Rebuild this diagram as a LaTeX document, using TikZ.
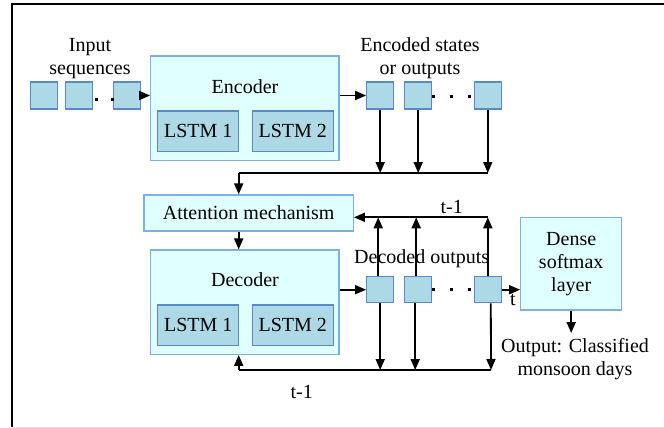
\documentclass[tikz,border=0pt]{standalone}
\usepackage{fontspec}
\setmainfont{Liberation Serif}
\usetikzlibrary{arrows.meta}
\definecolor{outerfill}{HTML}{E0FFFF}
\definecolor{outerline}{HTML}{7FAEE0}
\definecolor{cellfill}{HTML}{ADD8E6}
\definecolor{cellline}{HTML}{5A8AC6}
\begin{document}
\begin{tikzpicture}[x=1pt,y=-1pt,
  font=\fontsize{20}{23}\selectfont,
  outer/.style={draw=outerline, fill=outerfill, line width=1.2pt, inner sep=0pt},
  cell/.style={draw=cellline, fill=cellfill, line width=1.2pt, inner sep=0pt},
  sq/.style={cell, minimum width=27pt, minimum height=27pt},
  lstm/.style={cell, minimum width=81pt, minimum height=40.5pt},
  conn/.style={line width=1.8pt, -{Triangle[length=11pt,width=9pt]}},
  wire/.style={line width=1.8pt},
  lbl/.style={inner sep=0pt, align=center},
  dot/.style={fill=black}]
\useasboundingbox (0,0) rectangle (664,428);
\draw[line width=1.4pt] (670,4) -- (12,4) -- (12,427);
\draw[black!12, line width=1pt] (12,427.3) -- (670,427.3);

% input side
\node[lbl] (intxt) at (90,59) {Input\\sequences};
\node[sq] (in1) at (44,95.5) {};
\node[sq] (in2) at (79.3,95.5) {};
\node[sq] (in3) at (126.7,95.5) {};
\fill[dot] (94.5,97.5) rectangle (97.5,100.5);
\fill[dot] (111,97.5) rectangle (114,100.5);

% encoder
\node[outer, minimum width=188.3pt, minimum height=104.7pt] (enc) at (244.8,108.3) {};
\node[lbl] (enct) at (245,87) {Encoder};
\node[lstm] (el1) at (198.2,131.3) {LSTM 1};
\node[lstm] (el2) at (292.7,131.3) {LSTM 2};
\draw[conn] (in3.east) -- (in3.east -| enc.west);

% encoded outputs
\node[lbl] (enctxt) at (420,58.3) {Encoded states\\or outputs};
\node[sq] (e1) at (380.2,95.5) {};
\node[sq] (e2) at (418.2,95.5) {};
\node[sq] (e3) at (487.8,95.5) {};
\fill[dot] (432.2,94.8) rectangle (435.2,97.8);
\fill[dot] (450.2,94.8) rectangle (453.2,97.8);
\fill[dot] (467.8,94.8) rectangle (470.8,97.8);
\draw[conn] (e1.west -| enc.east) -- (e1.west);

\coordinate (busE) at (487.8,173);
\coordinate (busW) at (238.7,173);
\draw[conn] (e1.south) -- (e1.south |- busE);
\draw[conn] (e2.south) -- (e2.south |- busE);
\draw[conn] (e3.south) -- (busE);
\draw[wire] (busE) -- (busW);

% attention
\node[outer, minimum width=209.3pt, minimum height=36pt] (att) at (248.7,213) {Attention mechanism};
\draw[conn] (busW) -- (att.north -| busW);

% decoder
\node[outer, minimum width=188.3pt, minimum height=104.3pt] (dec) at (244.8,302.2) {};
\node[lbl] (dect) at (245,280) {Decoder};
\node[lstm] (dl1) at (198.2,325.3) {LSTM 1};
\node[lstm] (dl2) at (292.7,325.3) {LSTM 2};
\draw[conn] (att.south -| busW) -- (dec.north -| busW);

% decoded outputs
\node[sq, minimum height=26pt] (d1) at (380.2,289.7) {};
\node[sq, minimum height=26pt] (d2) at (418.2,289.7) {};
\node[sq, minimum height=26pt] (d3) at (487.8,289.7) {};
\fill[dot] (431.8,287.8) rectangle (434.8,290.8);
\fill[dot] (449.5,287.8) rectangle (452.5,290.8);
\fill[dot] (467.8,287.8) rectangle (470.8,290.8);
\draw[conn] (d1.west -| dec.east) -- (d1.west);

\coordinate (topE) at (488,217.3);
\draw[conn] ([xshift=-2pt]d1.north) -- ([xshift=-2pt]d1.north |- topE);
\draw[conn] ([xshift=-2pt]d2.north) -- ([xshift=-2pt]d2.north |- topE);
\draw[conn] (d3.north) -- (d3.north |- topE);
\draw[conn] (topE) -- (att.east |- topE);
\node[lbl] (tm1a) at (451.7,206.7) {t-1};

\coordinate (botE) at (491,370);
\coordinate (botW) at (238.7,370);
\draw[conn] (d1.south) -- (d1.south |- botE);
\draw[conn] ([xshift=-3pt]d2.south) -- ([xshift=-3pt]d2.south |- botE);
\draw[conn] ([xshift=3pt]d3.south) -- (botE);
\draw[wire] (botE) -- (botW);
\draw[conn] (botW) -- (dec.south -| botW);
\node[lbl] (tm1b) at (301.7,391.7) {t-1};

\node[lbl] (dectxt) at (421.7,258.3) {Decoded outputs};

% dense layer
\node[outer, minimum width=101pt, minimum height=92.7pt, align=center] (dense) at (571.2,263.7) {Dense\\softmax\\layer};
\draw[conn] (d3.east) -- (d3.east -| dense.west);
\node[lbl] (tlbl) at (513,300) {t};
\coordinate (outtip) at (571.2,333);
\draw[conn] (dense.south) -- (outtip);
\node[lbl] (out) at (575,358.7) {Output: Classified\\monsoon days};
\end{tikzpicture}
\end{document}
